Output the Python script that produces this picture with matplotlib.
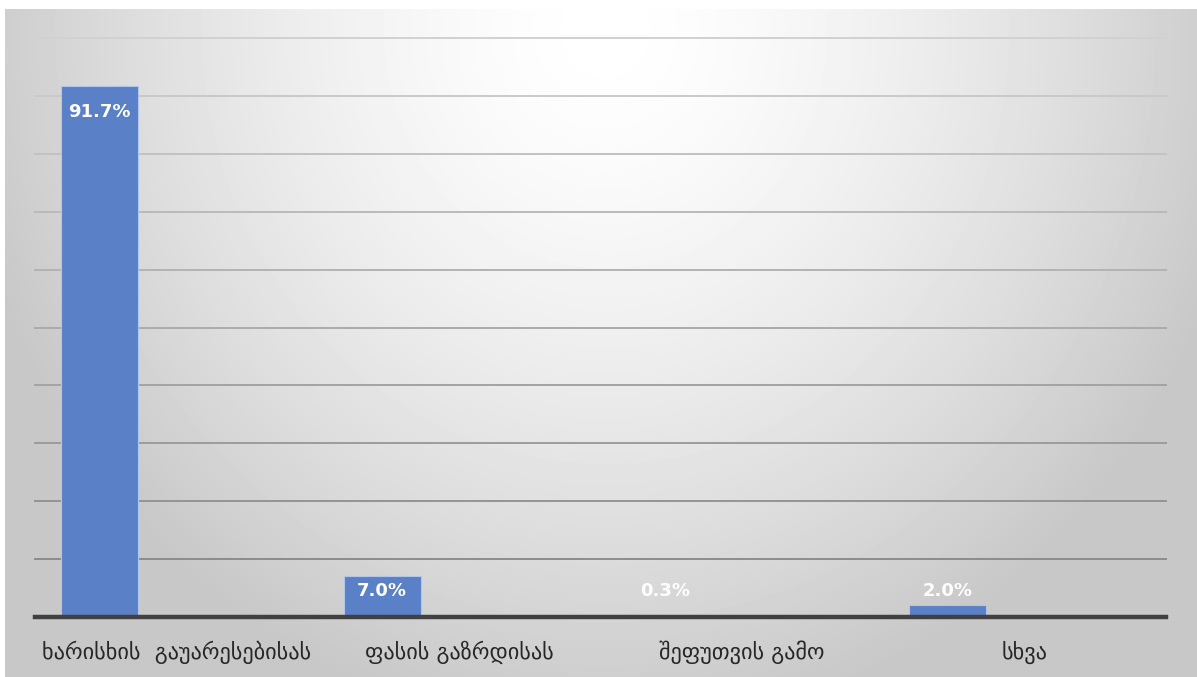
import numpy as np
import matplotlib
matplotlib.use("Agg")
import matplotlib.pyplot as plt

categories = ["ხარისხის  გაუარესებისას", "ფასის გაზრდისას", "შეფუთვის გამო", "სხვა"]
values = [91.7, 7.0, 0.3, 2.0]
labels = ["91.7%", "7.0%", "0.3%", "2.0%"]
yticks = list(range(0, 101, 10))

W, H = 1197, 677
BAR = "#5a80c8"
BAR_W = 0.272

plt.rcParams["font.family"] = ["DejaVu Sans"]

fig = plt.figure(figsize=(W / 100, H / 100), dpi=100, facecolor="white")

# radial grey background, brightest near top centre
bg = fig.add_axes([5 / W, 0, 1 - 5 / W, (H - 9) / H])
yy, xx = np.mgrid[0:H - 9, 0:W - 5]
d = np.sqrt(((xx - 600) / 650.0) ** 2 + ((yy - 20) / 700.0) ** 2)
shade = 255 - 55 * np.clip(d, 0, 1) ** 1.5
bg.imshow(shade, cmap="gray", vmin=0, vmax=255, aspect="auto", interpolation="bilinear")
bg.axis("off")

ax = fig.add_axes([35 / W, (H - 617) / H, 1131 / W, 579 / H])
ax.patch.set_alpha(0)
x = np.arange(len(categories))
# bars sit in the left half of each category slot (empty second series)
xb = x - BAR_W

# gridlines get darker toward the bottom
for t in yticks[1:]:
    g = 0.82 - 0.30 * (1 - t / 100)
    ax.axhline(t, color=(g, g, g), lw=1.4, zorder=0, clip_on=False)

ax.bar(xb, values, width=BAR_W, color=BAR, edgecolor="#b4c6e7", lw=0.8, zorder=2)
ax.axhline(0, color="#404040", lw=3.2, zorder=3, clip_on=False)

for xi, v, lab in zip(xb, values, labels):
    ax.text(xi, max(v - 4.4, 4.5), lab, ha="center", va="center", color="white",
            fontsize=13, fontweight="bold", zorder=4)

ax.set_xlim(-0.5, len(categories) - 0.5)
ax.set_ylim(0, 100)
ax.set_yticks([])
ax.set_xticks(x)
ax.set_xticklabels(categories, fontsize=16, color="#262626")
ax.tick_params(axis="x", length=0, pad=17)
for s in ax.spines.values():
    s.set_visible(False)

fig.savefig("out.png", dpi=100, facecolor="white")
